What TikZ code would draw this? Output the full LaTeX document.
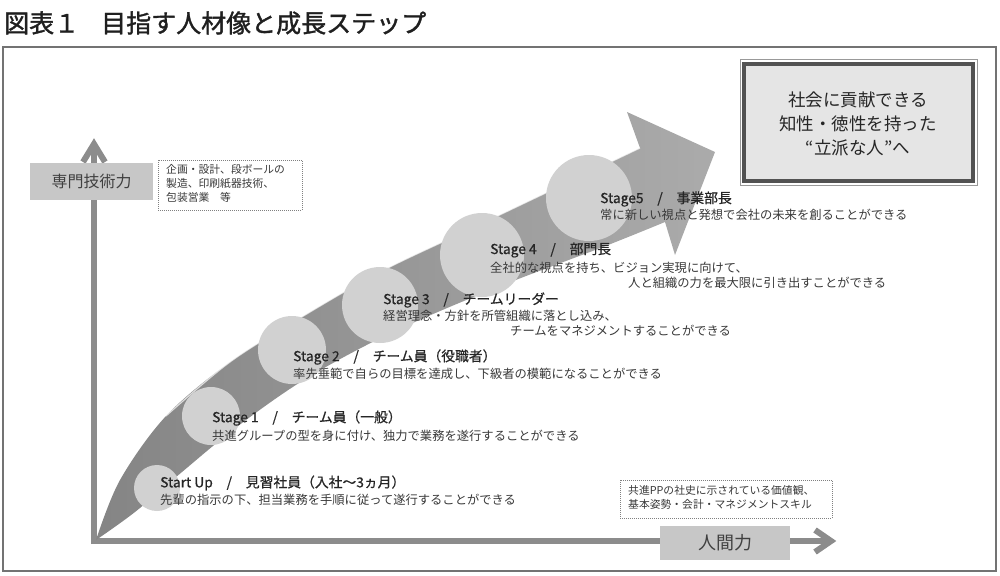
\documentclass[tikz,border=0pt]{standalone}
\usepackage{fontspec}
\setmainfont{Noto Sans CJK JP}
\newfontfamily\hdrfont[FakeBold=0.7]{Noto Sans CJK JP}
\newfontfamily\titlefont[FakeBold=1.4]{Noto Sans CJK JP}
\begin{document}
\begin{tikzpicture}[x=1pt,y=-1pt,
  hdr/.style={anchor=west, inner sep=0pt, font=\hdrfont\fontsize{13.8}{16}\selectfont, text=black!85},
  desc/.style={anchor=west, inner sep=0pt, font=\fontsize{12.3}{14}\selectfont, text=black!78},
  note/.style={anchor=north west, inner sep=0pt, align=left, font=\fontsize{10.8}{14}\selectfont, text=black!78},
  dotbox/.style={draw=black!50, densely dotted, line width=1pt},
  axisline/.style={draw=black!45, line width=6pt},
  axishead/.style={draw=black!45, line width=6pt, line join=miter, line cap=butt},
  labbox/.style={fill=black!22, text=black!75, inner sep=0pt},
  circ/.style={fill=black!18, draw=none}]
\useasboundingbox (0,0) rectangle (1000,575);
% title
\node[anchor=west, inner sep=0pt, font=\titlefont\fontsize{25}{28}\selectfont, text=black!88] (title) at (4,23) {図表１\hspace{22pt}目指す人材像と成長ステップ};
% frame
\draw[black!55, line width=1.5pt] (3,47) rectangle (996,571);
% axes
\coordinate (O) at (94,541);
\coordinate (ytop) at (94,146);
\coordinate (xend) at (830,541);
\draw[axisline] (94,544) -- (ytop);
\draw[axisline] (91,541) -- (xend);
\draw[axishead] (83,162) -- (94,144) -- (105,162);
\draw[axishead] (815,530) -- (831,541) -- (815,552);
% big arrow
\shade[left color=black!48, right color=black!33]
  plot[smooth, tension=0.55] coordinates {(96,540) (120,480) (166,416) (230,362) (300,318) (380,272) (466,231) (575,179) (640,148)}
  -- (627,112) -- (715,152) -- (675,255) -- (665,222)
  -- plot[smooth, tension=0.55] coordinates {(665,222) (603,247) (498,287) (393,332) (307,378) (238,426) (182,472) (135,512) (96,540)} -- cycle;
\draw[white, opacity=0.7, line width=1.2pt]
  plot[smooth, tension=0.55] coordinates {(166,416) (230,362) (300,318) (380,272) (466,231) (575,179) (640,148)};
% circles
\fill[circ] (157,488) circle (23);
\fill[circ] (211,416) circle (29);
\fill[circ] (292,350) circle (34);
\fill[circ] (380,305) circle (38);
\fill[circ] (482,255) circle (42);
\fill[circ] (589,198) circle (43);
% stage texts
\node[hdr] (s0h) at (160,483) {Start Up　/　見習社員（入社～3ヵ月）};
\node[desc] (s0d) at (160,500) {先輩の指示の下、担当業務を手順に従って遂行することができる};
\node[hdr] (s1h) at (212,418) {Stage 1　/　チーム員（一般）};
\node[desc] (s1d) at (212,436) {共進グループの型を身に付け、独力で業務を遂行することができる};
\node[hdr] (s2h) at (293,357) {Stage 2　/　チーム員（役職者）};
\node[desc] (s2d) at (293,374) {率先垂範で自らの目標を達成し、下級者の模範になることができる};
\node[hdr] (s3h) at (383,300) {Stage 3　/　チームリーダー};
\node[desc] (s3d) at (383,316) {経営理念・方針を所管組織に落とし込み、};
\node[desc] (s3e) at (510,331) {チームをマネジメントすることができる};
\node[hdr] (s4h) at (490,250) {Stage 4　/　部門長};
\node[desc] (s4d) at (490,268) {全社的な視点を持ち、ビジョン実現に向けて、};
\node[desc] (s4e) at (628,283) {人と組織の力を最大限に引き出すことができる};
\node[hdr] (s5h) at (600,199) {Stage5　/　事業部長};
\node[desc] (s5d) at (600,215) {常に新しい視点と発想で会社の未来を創ることができる};
% axis labels
\node[labbox, minimum width=123pt, minimum height=37pt, font=\fontsize{16}{18}\selectfont] (ylab) at (91.5,181.5) {専門技術力};
\node[labbox, minimum width=130pt, minimum height=34pt, font=\fontsize{18}{20}\selectfont] (xlab) at (725,543) {人間力};
% dotted notes
\draw[dotbox] (158,160) rectangle (302,210);
\node[note] (n1) at (166,164) {企画・設計、段ボールの\\製造、印刷紙器技術、\\包装営業　等};
\draw[dotbox] (620,480) rectangle (832,518);
\node[note] (n2) at (628,485) {共進PPの社史に示されている価値観、\\基本姿勢・会計・マネジメントスキル};
% goal box
\draw[black!40, line width=1pt] (740,60) rectangle (977,185);
\draw[black!68, fill=black!10, line width=4pt] (744,64) rectangle (973,181);
\node[align=center, inner sep=0pt, font=\fontsize{17.5}{24}\selectfont, text=black!85] (goal) at (858,124) {社会に貢献できる\\知性・徳性を持った\\“立派な人”へ};
\end{tikzpicture}
\end{document}
